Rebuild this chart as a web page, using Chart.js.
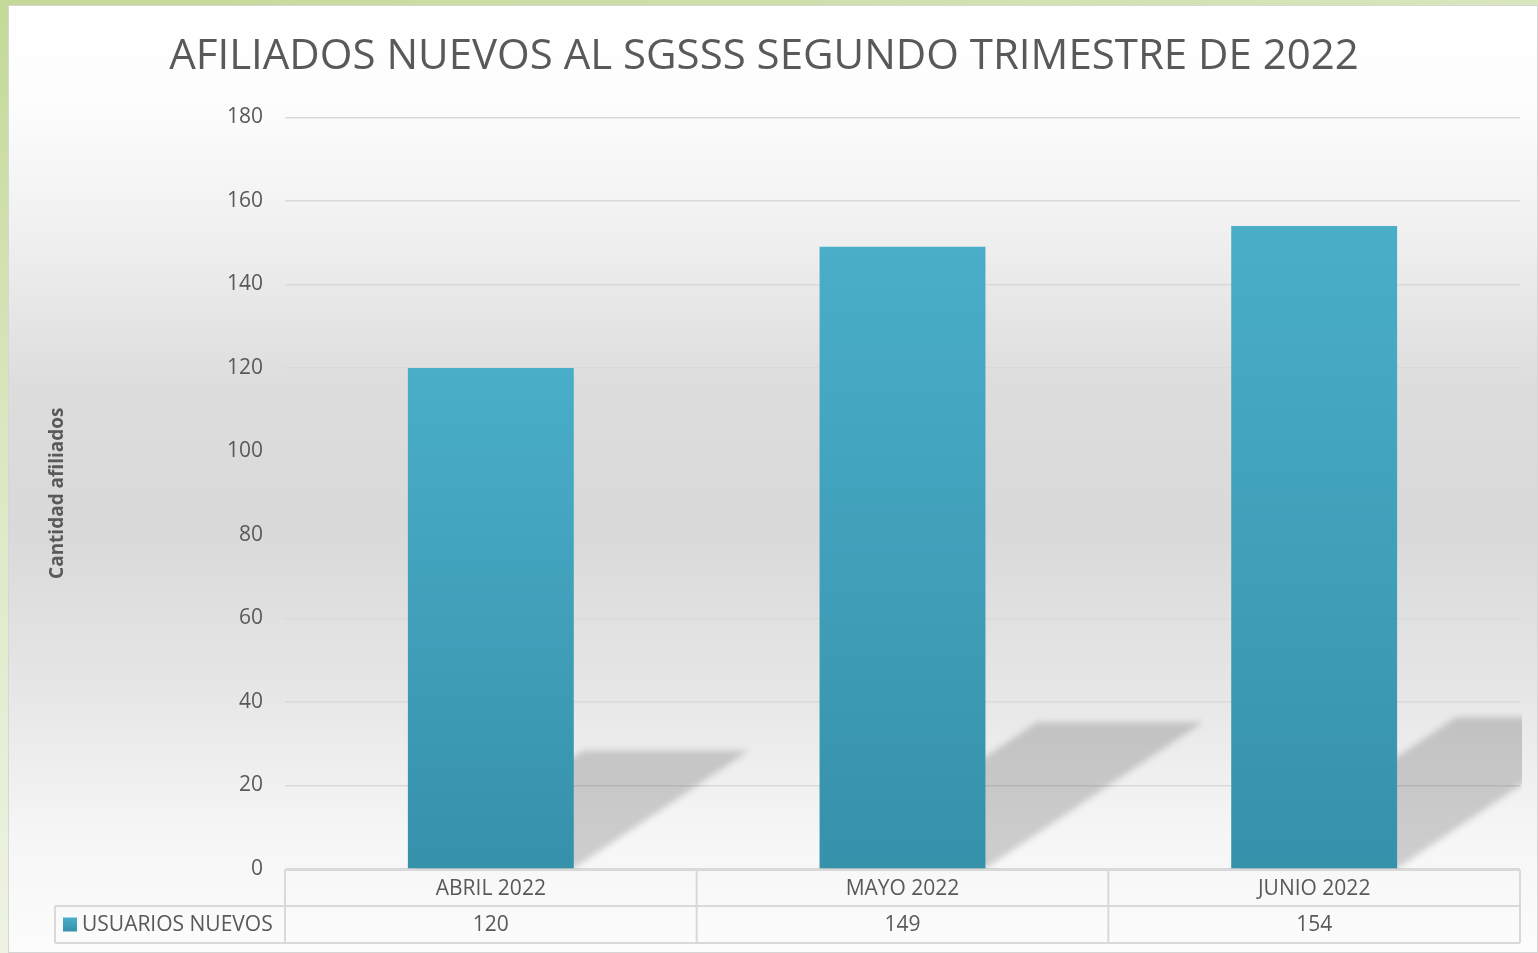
<!DOCTYPE html>
<html>
<head>
<meta charset="utf-8">
<script src="https://cdn.jsdelivr.net/npm/chart.js@4.4.1/dist/chart.umd.min.js"></script>
<style>
  html, body { margin: 0; padding: 0; }
  body {
    width: 1538px; height: 953px; overflow: hidden; position: relative;
    background: linear-gradient(165deg, #c4d997 0%, #dce8c4 35%, #eef3e3 70%, #f6f8f0 100%);
  }
  #chart { position: absolute; left: 8px; top: 5px; }
</style>
</head>
<body>
<canvas id="chart" width="1530" height="948"></canvas>
<script>
// data
const months = ['ABRIL 2022', 'MAYO 2022', 'JUNIO 2022'];
const usuarios_nuevos = [120, 149, 154];
const series_name = 'USUARIOS NUEVOS';
const y_ticks = [0, 20, 40, 60, 80, 100, 120, 140, 160, 180];

const txt_color = '#595959';
const line_color = '#d9d9d9';
const font_family = '"Open Sans", "Noto Sans", sans-serif';

function barGradient(ctx, top, bottom){
  let g = ctx.createLinearGradient(0, top, 0, bottom);
  g.addColorStop(0, '#4aaec9');
  g.addColorStop(1, '#3691ab');
  return g;
}

// background of the chart area (white -> gray -> white)
const bgPlugin = {
  id: 'bg',
  beforeDraw(chart){
    const ctx = chart.ctx;
    const h = chart.height;
    let g = ctx.createLinearGradient(0, 0, 0, h);
    g.addColorStop(0, '#ffffff');
    g.addColorStop(0.1, '#fdfdfd');
    g.addColorStop(0.24, '#f0f0f0');
    g.addColorStop(0.4, '#dddddd');
    g.addColorStop(0.55, '#d9d9d9');
    g.addColorStop(0.72, '#e6e6e6');
    g.addColorStop(0.88, '#f6f6f6');
    g.addColorStop(1, '#fcfcfc');
    ctx.save();
    ctx.fillStyle = g;
    ctx.fillRect(0, 0, chart.width, h);
    ctx.strokeStyle = '#d6d6d6';
    ctx.lineWidth = 1;
    ctx.strokeRect(0.5, 0.5, chart.width - 1, h - 1);
    ctx.restore();
  }
};

// perspective shadow behind each bar
const shadowPlugin = {
  id: 'barShadow',
  beforeDatasetsDraw(chart){
    const ctx = chart.ctx;
    const area = chart.chartArea;
    const meta = chart.getDatasetMeta(0);
    ctx.save();
    ctx.beginPath();
    ctx.rect(area.left, area.top, area.right - area.left + 2, area.bottom - area.top);
    ctx.clip();
    ctx.filter = 'blur(3px)';
    ctx.fillStyle = 'rgba(0,0,0,0.17)';
    meta.data.forEach(function(bar){
      let p = bar.getProps(['x', 'y', 'base', 'width'], true);
      let h = p.base - p.y;
      let x0 = p.x - p.width / 2, x1 = p.x + p.width / 2;
      let dx = h * 0.35, dy = h * 0.235;
      ctx.beginPath();
      ctx.moveTo(x0, p.base);
      ctx.lineTo(x1, p.base);
      ctx.lineTo(x1 + dx, p.base - dy);
      ctx.lineTo(x0 + dx, p.base - dy);
      ctx.closePath();
      ctx.fill();
    });
    ctx.restore();
  }
};

// data table under the plot with the legend key
const tablePlugin = {
  id: 'dataTable',
  afterDraw(chart){
    const ctx = chart.ctx;
    const area = chart.chartArea;
    const x = chart.scales.x;
    const top = area.bottom + 1;
    const mid = top + 36;
    const bot = mid + 37;
    const legendLeft = 47;
    const n = months.length;
    const step = (area.right - area.left) / n;

    ctx.save();
    ctx.strokeStyle = line_color;
    ctx.lineWidth = 2;
    ctx.beginPath();
    ctx.moveTo(area.left, top); ctx.lineTo(area.right, top);
    ctx.moveTo(legendLeft, mid); ctx.lineTo(area.right, mid);
    ctx.moveTo(legendLeft, bot); ctx.lineTo(area.right, bot);
    for(let i = 0; i <= n; i++){
      let lx = area.left + step * i;
      ctx.moveTo(lx, top); ctx.lineTo(lx, bot);
    }
    ctx.moveTo(legendLeft, mid); ctx.lineTo(legendLeft, bot);
    ctx.stroke();

    ctx.fillStyle = txt_color;
    ctx.font = '21px ' + font_family;
    ctx.textAlign = 'center';
    ctx.textBaseline = 'middle';
    for(let i = 0; i < n; i++){
      let cx = x.getPixelForValue(i);
      ctx.fillText(months[i], cx, (top + mid) / 2 + 1);
      ctx.fillText(String(usuarios_nuevos[i]), cx, (mid + bot) / 2 + 1);
    }

    // legend key
    let ky = (mid + bot) / 2;
    ctx.fillStyle = barGradient(ctx, ky - 7, ky + 7);
    ctx.fillRect(legendLeft + 8, ky - 7, 14, 14);
    ctx.fillStyle = txt_color;
    ctx.textAlign = 'left';
    ctx.fillText(series_name, legendLeft + 27, ky + 1);
    ctx.restore();
  }
};

const ctx = document.getElementById('chart');

new Chart(ctx, {
  type: 'bar',
  data: {
    labels: months,
    datasets: [{
      label: series_name,
      data: usuarios_nuevos,
      backgroundColor: function(c){
        const chart = c.chart;
        if(!chart.chartArea || c.raw === undefined) return '#40a0ba';
        const y = chart.scales.y;
        return barGradient(chart.ctx, y.getPixelForValue(c.raw), y.getPixelForValue(0));
      },
      borderWidth: 0,
      categoryPercentage: 1,
      barPercentage: 0.403
    }]
  },
  options: {
    responsive: false,
    animation: false,
    layout: {
      padding: { top: 0, right: 18, bottom: 84, left: 0 }
    },
    plugins: {
      legend: { display: false },
      tooltip: { enabled: false },
      title: {
        display: true,
        text: 'AFILIADOS NUEVOS AL SGSSS SEGUNDO TRIMESTRE DE 2022',
        color: txt_color,
        font: { family: font_family, size: 42, weight: 'normal' },
        padding: { top: 27, bottom: 35 }
      }
    },
    scales: {
      x: {
        display: true,
        grid: { display: false, drawTicks: false },
        border: { display: false },
        ticks: { display: false }
      },
      y: {
        min: 0,
        max: 180,
        afterBuildTicks: function(scale){
          scale.ticks = y_ticks.map(function(v){ return { value: v }; });
        },
        afterFit: function(scale){
          scale.width = 277;
        },
        grid: { color: line_color, lineWidth: 1.5, drawTicks: false },
        border: { display: false },
        ticks: {
          color: txt_color,
          font: { family: font_family, size: 21 },
          padding: 22
        },
        title: {
          display: true,
          text: 'Cantidad afiliados',
          color: txt_color,
          font: { family: font_family, size: 19, weight: 'bold' },
          padding: { top: 38, bottom: 0 }
        }
      }
    }
  },
  plugins: [bgPlugin, shadowPlugin, tablePlugin]
});
</script>
</body>
</html>
